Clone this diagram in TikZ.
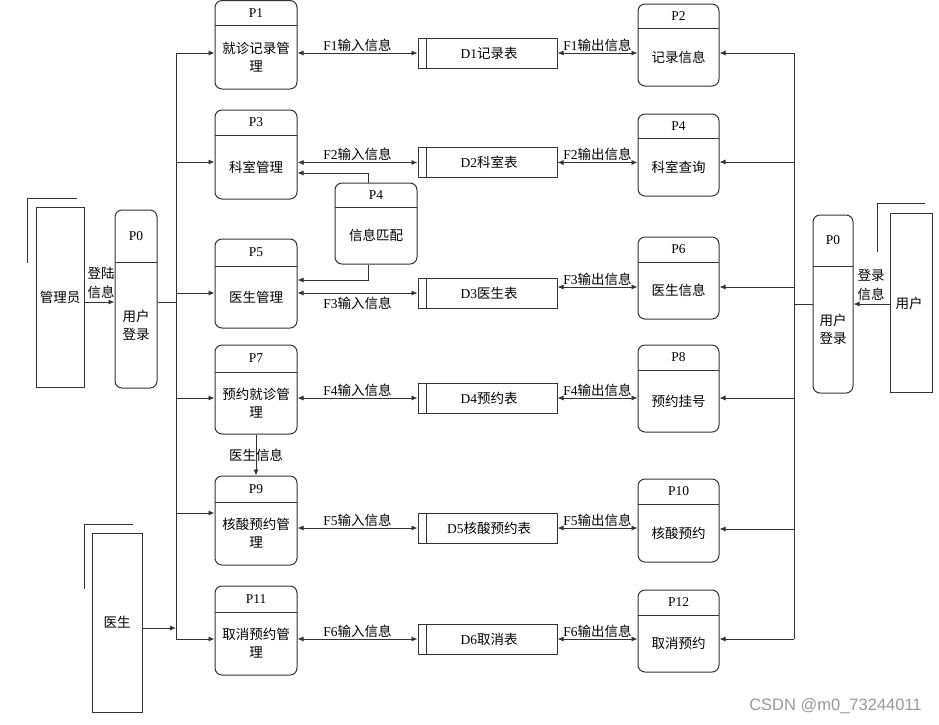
\documentclass[tikz,border=0pt]{standalone}
\usepackage{fontspec}
\setmainfont{Liberation Serif}
\newfontfamily\cjk{Noto Sans CJK SC}
\newfontfamily\wmfont{Liberation Sans}
\usetikzlibrary{arrows.meta}
\definecolor{linec}{HTML}{333333}
\newcommand\zh[1]{{\cjk #1}}
\tikzset{
  base/.style={draw=linec, line width=0.9pt},
  boxline/.style={draw=linec, line width=1pt},
  pbox/.style={boxline, rounded corners=7pt, inner sep=0pt},
  sbox/.style={boxline, inner sep=0pt, minimum width=139pt, minimum height=30pt},
  ebox/.style={boxline, inner sep=0pt},
  lat/.style={font=\fontsize{13.5}{16}\selectfont, inner sep=0pt},
  zht/.style={font=\cjk\fontsize{13.5}{18}\selectfont, inner sep=0pt, align=center},
  zhtwo/.style={font=\cjk\fontsize{13.5}{19}\selectfont, inner sep=0pt, align=center},
  flow/.style={base, -{Latex[length=6pt,width=5pt]}},
  flowtwo/.style={base, {Latex[length=6pt,width=5pt]}-{Latex[length=6pt,width=5pt]}},
  lab/.style={font=\fontsize{13.5}{16}\selectfont, inner sep=0pt},
}
% name, xleft, width, ytop, ybottom, ydivider, title, body
\newcommand\proc[8]{%
  \node[pbox, minimum width={#3}, minimum height={#5-#4}] (#1) at ({#2+#3/2},{(#4+#5)/2}) {};
  \draw[boxline] (#2,#6) -- ({#2+#3},#6);
  \node[lat] (#1-t) at ({#2+#3/2},{(#4+#6)/2}) {#7};
  \node[zht] (#1-b) at ({#2+#3/2},{(#6+#5)/2}) {#8};
}
% name, ycenter, text
\newcommand\store[3]{%
  \node[sbox] (#1) at (487.5,#2) {};
  \draw[boxline] (426,{#2-15}) -- (426,{#2+15});
  \node[lat] (#1-t) at (489,#2) {#3};
}
\begin{document}
\begin{tikzpicture}[x=1pt,y=-1pt]
\fill[white] (0,0) rectangle (939,724);
\useasboundingbox (0,0) rectangle (939,724);

% left processes
\proc{P1}{215}{82}{0.5}{89}{25}{P1}{就诊记录管\\理}
\proc{P3}{215}{82}{110}{199}{135}{P3}{科室管理}
\proc{P5}{215}{82}{239}{328}{266}{P5}{医生管理}
\proc{P7}{215}{82}{345}{434}{372}{P7}{预约就诊管\\理}
\proc{P9}{215}{82}{476}{565}{502}{P9}{核酸预约管\\理}
\proc{P11}{215}{82}{586}{675}{612}{P11}{取消预约管\\理}
% right processes
\proc{P2}{638}{81}{4}{86}{28}{P2}{记录信息}
\proc{P4r}{638}{81}{114}{196}{138}{P4}{科室查询}
\proc{P6}{638}{81}{237}{319}{262}{P6}{医生信息}
\proc{P8}{638}{81}{345}{432}{370}{P8}{预约挂号}
\proc{P10}{638}{81}{479}{562}{504}{P10}{核酸预约}
\proc{P12}{638}{81}{590}{672}{615}{P12}{取消预约}
% middle process
\proc{P4m}{335}{82}{183}{264}{207}{P4}{信息匹配}
% login processes
\proc{P0L}{115}{42}{210}{388}{262}{P0}{用户\\登录}
\proc{P0R}{813}{40}{215}{393}{266}{P0}{用户\\登录}

% data stores
\store{D1}{53}{D1\zh{记录表}}
\store{D2}{162.5}{D2\zh{科室表}}
\store{D3}{293}{D3\zh{医生表}}
\store{D4}{398}{D4\zh{预约表}}
\store{D5}{528}{D5\zh{核酸预约表}}
\store{D6}{639}{D6\zh{取消表}}

% external entities
\node[ebox, minimum width=48, minimum height=180] (admin) at (60,297) {};
\node[zht] (admin-t) at (admin.center) {管理员};
\draw[boxline] (27,263) -- (27,198) -- (77,198);
\node[ebox, minimum width=42, minimum height=179] (user) at (911,302.5) {};
\node[zht] (user-t) at (909,303) {用户};
\draw[boxline] (877,252) -- (877,203) -- (925,203);
\node[ebox, minimum width=50, minimum height=179] (doctor) at (117,622.5) {};
\node[zht] (doctor-t) at (doctor.center) {医生};
\draw[boxline] (84,589) -- (84,524) -- (133,524);

% bus coordinates
\coordinate (l1) at (176,53);
\coordinate (l3) at (176,162);
\coordinate (l5) at (176,293);
\coordinate (l7) at (176,398);
\coordinate (l9) at (176,513);
\coordinate (l11) at (176,639);
\coordinate (l0) at (176,302);
\coordinate (ld) at (176,628);
\coordinate (r2) at (794,53);
\coordinate (r4) at (794,162);
\coordinate (r6) at (794,287);
\coordinate (r8) at (794,398);
\coordinate (r10) at (794,529);
\coordinate (r12) at (794,639);
\coordinate (r0) at (794,304);
\coordinate (m3) at (0,287);
\coordinate (k1) at (368,173);
\coordinate (k2) at (368,280);

% buses
\draw[base] (l1) -- (l11);
\draw[base] (r2) -- (r12);
\draw[flow] (l1) -- (P1.west |- l1);
\draw[flow] (l3) -- (P3.west |- l3);
\draw[flow] (l5) -- (P5.west |- l5);
\draw[flow] (l7) -- (P7.west |- l7);
\draw[flow] (l9) -- (P9.west |- l9);
\draw[flow] (l11) -- (P11.west |- l11);
\draw[flow] (r2) -- (P2.east |- r2);
\draw[flow] (r4) -- (P4r.east |- r4);
\draw[flow] (r6) -- (P6.east |- r6);
\draw[flow] (r8) -- (P8.east |- r8);
\draw[flow] (r10) -- (P10.east |- r10);
\draw[flow] (r12) -- (P12.east |- r12);

% login
\draw[flow] (admin.east |- l0) -- (P0L.west |- l0);
\node[zhtwo] (lab-admin) at (101,283) {登陆\\信息};
\draw[base] (P0L.east |- l0) -- (l0);
\draw[flow] (user.west |- r0) -- (P0R.east |- r0);
\node[zhtwo] (lab-user) at (871,285) {登录\\信息};
\draw[base] (P0R.west |- r0) -- (r0);
\draw[flow] (doctor.east |- ld) -- (ld);

% input flows
\draw[flowtwo] (P1.east |- D1) -- (D1.west) node[midway, above=1pt, lab] {F1\zh{输入信息}};
\draw[flowtwo] (P3.east |- D2) -- (D2.west) node[midway, above=1pt, lab] {F2\zh{输入信息}};
\draw[flowtwo] (P5.east |- D3) -- (D3.west) node[midway, below=4pt, lab] {F3\zh{输入信息}};
\draw[flowtwo] (P7.east |- D4) -- (D4.west) node[midway, above=1pt, lab] {F4\zh{输入信息}};
\draw[flowtwo] (P9.east |- D5) -- (D5.west) node[midway, above=1pt, lab] {F5\zh{输入信息}};
\draw[flowtwo] (P11.east |- D6) -- (D6.west) node[midway, above=1pt, lab] {F6\zh{输入信息}};
% output flows
\draw[flowtwo] (D1.east) -- (P2.west |- D1) node[midway, above=1pt, lab] {F1\zh{输出信息}};
\draw[flowtwo] (D2.east) -- (P4r.west |- D2) node[midway, above=1pt, lab] {F2\zh{输出信息}};
\draw[flowtwo] (D3.east |- m3) -- (P6.west |- m3) node[midway, above=1pt, lab] {F3\zh{输出信息}};
\draw[flowtwo] (D4.east) -- (P8.west |- D4) node[midway, above=1pt, lab] {F4\zh{输出信息}};
\draw[flowtwo] (D5.east) -- (P10.west |- D5) node[midway, above=1pt, lab] {F5\zh{输出信息}};
\draw[flowtwo] (D6.east) -- (P12.west |- D6) node[midway, above=1pt, lab] {F6\zh{输出信息}};

% info matching
\draw[flow] (P4m.north -| k1) -- (k1) -- (P3.east |- k1);
\draw[flow] (P4m.south -| k2) -- (k2) -- (P5.east |- k2);

% doctor info
\draw[flow] (P7.south) -- (P9.north) node[midway, zht] {医生信息};

% watermark
\node[font=\wmfont\fontsize{16.5}{18}\selectfont, text=black!40, inner sep=0pt] (wm) at (835.5,706) {CSDN @m0\_73244011};
\end{tikzpicture}
\end{document}
